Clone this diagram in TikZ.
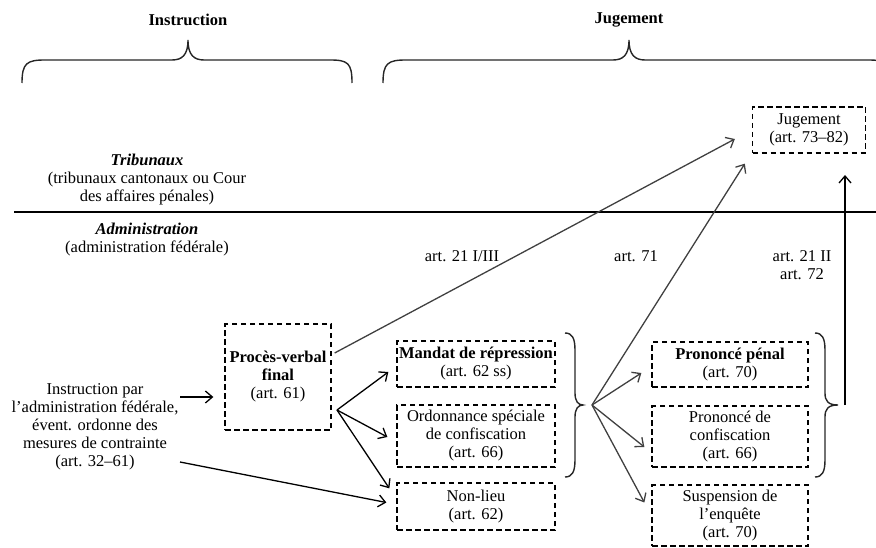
\documentclass[tikz,border=0pt]{standalone}
\usepackage{fontspec}
\setmainfont{Liberation Serif}
\usetikzlibrary{arrows.meta,calc}
\begin{document}
\begin{tikzpicture}[x=1pt,y=-1pt,
  every node/.style={font=\fontsize{16.5}{18}\selectfont, align=center, inner sep=0pt},
  box/.style={draw, line width=1.3pt, dash pattern=on 5.5pt off 3.5pt, minimum width=#1},
  arr/.style={line width=1.3pt, -{Straight Barb[length=7pt,width=12pt,line width=1.3pt]}},
  garr/.style={arr, draw=black!75},
  brc/.style={line width=1.4pt, draw=black!85}]
\useasboundingbox (0,0) rectangle (876,548);
\clip (0,0) rectangle (876,548);

% headers and top braces
\node[font=\fontsize{16.5}{18}\selectfont\bfseries] (hinst) at (188,20) {Instruction};
\node[font=\fontsize{16.5}{18}\selectfont\bfseries] (hjug) at (629,20) {Jugement};
\draw[brc] (22,83) .. controls (22,63) and (27,60) .. (45,60) -- (172,60)
  .. controls (182,60) and (188,55) .. (188,40) .. controls (188,55) and (194,60) .. (204,60)
  -- (330,60) .. controls (348,60) and (352,63) .. (352,83);
\draw[brc] (383,83) .. controls (383,63) and (388,60) .. (406,60) -- (613,60)
  .. controls (623,60) and (629,55) .. (629,40) .. controls (629,55) and (635,60) .. (645,60)
  -- (868,60) .. controls (886,60) and (890,63) .. (890,83);

% separator
\draw[line width=1.4pt] (14,212) -- (876,212);

\node (trib) at (147,180) {\textbf{\textit{Tribunaux}}\\(tribunaux cantonaux ou Cour\\des affaires pénales)};
\node (adm) at (147,240) {\textbf{\textit{Administration}}\\(administration fédérale)};

\node (l1) at (462,256) {art. 21 I/III};
\node (l2) at (636,256) {art. 71};
\node (l3) at (802,265) {art. 21 II\\art. 72};

% boxes
\node[box=113pt, minimum height=46pt] (jug) at (809,130) {Jugement\\(art. 73–82)};
\node[box=106pt, minimum height=106pt] (pv) at (278,377) {\textbf{Procès-verbal}\\\textbf{final}\\(art. 61)};
\node[box=158pt, minimum height=46pt] (mandat) at (476,364) {\textbf{Mandat de répression}\\(art. 62 ss)};
\node[box=158pt, minimum height=62pt] (ordo) at (476,436) {Ordonnance spéciale\\de confiscation\\(art. 66)};
\node[box=158pt, minimum height=47pt] (nonlieu) at (476,506.5) {Non-lieu\\(art. 62)};
\node[box=156pt, minimum height=45pt] (ppenal) at (730,364.5) {\textbf{Prononcé pénal}\\(art. 70)};
\node[box=156pt, minimum height=61pt] (pconf) at (730,436.5) {Prononcé de\\confiscation\\(art. 66)};
\node[box=156pt, minimum height=61pt] (susp) at (730,515.5) {Suspension de\\l’enquête\\(art. 70)};

\node (inst) at (95,427) {Instruction par\\l’administration fédérale,\\évent. ordonne des\\mesures de contrainte\\(art. 32–61)};

% right braces
\draw[brc] (565,333) .. controls (572,333) and (575,338) .. (575,350) -- (575,393)
  .. controls (575,401) and (578,405) .. (583,405) .. controls (578,405) and (575,409) .. (575,417)
  -- (575,460) .. controls (575,472) and (572,477) .. (565,477);
\draw[brc] (815,333) .. controls (822,333) and (825,338) .. (825,350) -- (825,393)
  .. controls (825,401) and (828,405) .. (838,405) .. controls (828,405) and (825,409) .. (825,417)
  -- (825,460) .. controls (825,472) and (822,477) .. (815,477);

\coordinate (a1) at (180,397);
\coordinate (a2) at (180,462);
\coordinate (pvout) at (337,410);
\coordinate (fan1) at (592,405);
\coordinate (fan2) at (845,405);
\coordinate (jt) at (845,175);

% connectors
\draw[arr] (a1) -- ($(pv.west |- a1)+(-11,0)$);
\draw[arr] (a2) -- ($(nonlieu.west)+(-10,-4)$);
\draw[arr] (pvout) -- ($(mandat.west)+(-8,8)$);
\draw[arr] (pvout) -- ($(ordo.west)+(-9,1)$);
\draw[arr] (pvout) -- ($(nonlieu.north west)+(-7,6)$);
\draw[garr] ($(pv.east)+(3,-24)$) -- ($(jug.west)+(-17,9)$);
\draw[garr] (fan1) -- ($(jug.south west)+(-7,10)$);
\draw[garr] (fan1) -- ($(ppenal.west)+(-10,8.5)$);
\draw[garr] (fan1) -- ($(pconf.west)+(-7,10.5)$);
\draw[garr] (fan1) -- ($(susp.west)+(-7,-13)$);
\draw[arr] (fan2) -- (jt);
\end{tikzpicture}
\end{document}
